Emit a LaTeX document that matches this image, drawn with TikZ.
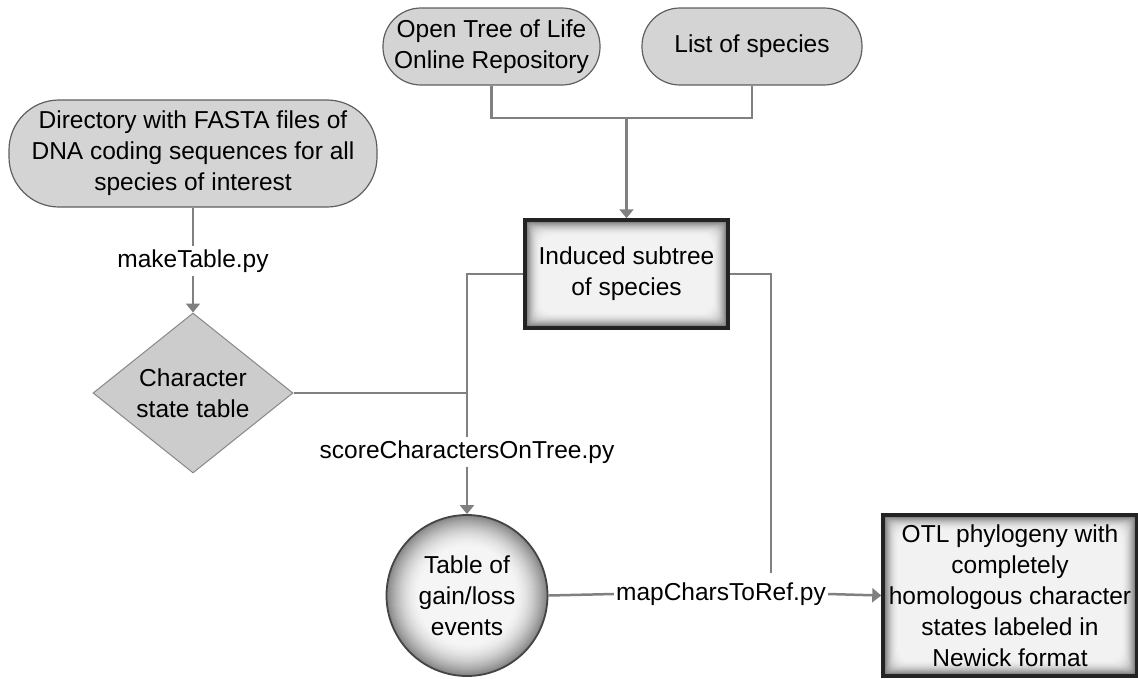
\documentclass[tikz,border=0pt]{standalone}
\usepackage{fontspec}
\setmainfont{Liberation Sans}
\usetikzlibrary{shapes.geometric,arrows.meta}

\definecolor{pillfill}{RGB}{212,212,212}
\definecolor{pillline}{RGB}{95,95,95}
\definecolor{diafill}{RGB}{204,204,204}
\definecolor{dialine}{RGB}{135,135,135}
\definecolor{boxline}{RGB}{35,35,35}
\definecolor{connc}{RGB}{128,128,128}

\tikzset{
  pill/.style={draw=pillline, fill=pillfill, line width=1.2pt,
    rectangle, align=center, inner sep=2pt},
  decision/.style={diamond, aspect=1.25, draw=dialine, fill=diafill,
    line width=1pt, align=center, inner sep=0pt,
    minimum width=200pt, minimum height=160pt},
  glowbox/.style={rectangle, draw=boxline, line width=3.5pt, align=center,
    inner sep=2pt,
    path picture={
      \foreach \i in {0,...,16}{
        \pgfmathsetmacro\s{5+55*(1-\i/16)^2}
        \fill[black!\s!white, rounded corners={\i*0.8pt}]
          ([shift={(\i pt,-\i pt)}]path picture bounding box.north west)
          rectangle
          ([shift={(-\i pt,\i pt)}]path picture bounding box.south east);
      }}},
  glowdisc/.style={circle, draw=boxline!85, line width=1.8pt, align=center,
    inner sep=0pt, minimum size=161pt,
    path picture={
      \foreach \i in {0,...,32}{
        \pgfmathsetmacro\s{4+44*(1-\i/32)^1.7}
        \fill[black!\s!white] (path picture bounding box.center)
          circle[radius={(80.5-\i)*1pt}];
      }}},
  scriptlabel/.style={inner sep=3pt},
  conn/.style={draw=connc, line width=2.5pt},
  tipped/.style={-{Triangle[width=14pt,length=9pt]}}
}

\begin{document}
\begin{tikzpicture}[x=1pt, y=-1pt, font=\fontsize{24.5}{31}\selectfont]
\useasboundingbox (0,0) rectangle (1138,678);

% inputs
\node[pill, rounded corners=38pt, minimum width=217pt, minimum height=77pt]
  (otol) at (491.5,46.5) {Open Tree of Life\\Online Repository};
\node[pill, rounded corners=38pt, minimum width=220pt, minimum height=77pt]
  (species) at (752,46.5) {List of species};
\node[pill, rounded corners=50pt, minimum width=368pt, minimum height=107pt]
  (fasta) at (193,153.5)
  {Directory with FASTA files of\\DNA coding sequences for all\\species of interest};

% intermediate results
\node[glowbox, minimum width=203pt, minimum height=108pt]
  (induced) at (626.5,274) {Induced subtree\\of species};
\node[decision] (chartable) at (193,393) {Character\\state table};
\node[glowdisc] (gainloss) at (467,595.5) {Table of\\gain/loss\\events};
\node[glowbox, minimum width=254pt, minimum height=161pt]
  (otlout) at (1010,595.5)
  {OTL phylogeny with\\completely\\homologous character\\states labeled in\\Newick format};

% script labels
\node[scriptlabel] (lbltable) at (193,261) {makeTable.py};
\node[scriptlabel] (lblscore) at (467,452) {scoreCharactersOnTree.py};
\node[scriptlabel, inner sep=2pt] (lblmap) at (721,594) {mapCharsToRef.py};

\coordinate (merge) at (626.5,118);
\coordinate (maptop) at (771,573);

% connectors
\draw[conn] (otol.south) |- (merge);
\draw[conn] (species.south) |- (merge);
\draw[conn, tipped] (merge) -- (induced.north);

\draw[conn] (fasta.south) -- (lbltable.north);
\draw[conn, tipped] (lbltable.south) -- (chartable.north);

\draw[conn] (induced.west) -| (lblscore.north);
\draw[conn] (chartable.east) -- (chartable.east -| lblscore.north);
\draw[conn, tipped] (lblscore.south) -- (gainloss.north);

\draw[conn] (induced.east) -| (maptop);
\draw[conn] (gainloss.east) -- (lblmap.west);
\draw[conn, tipped] (lblmap.east) -- (otlout.west);
\end{tikzpicture}
\end{document}
